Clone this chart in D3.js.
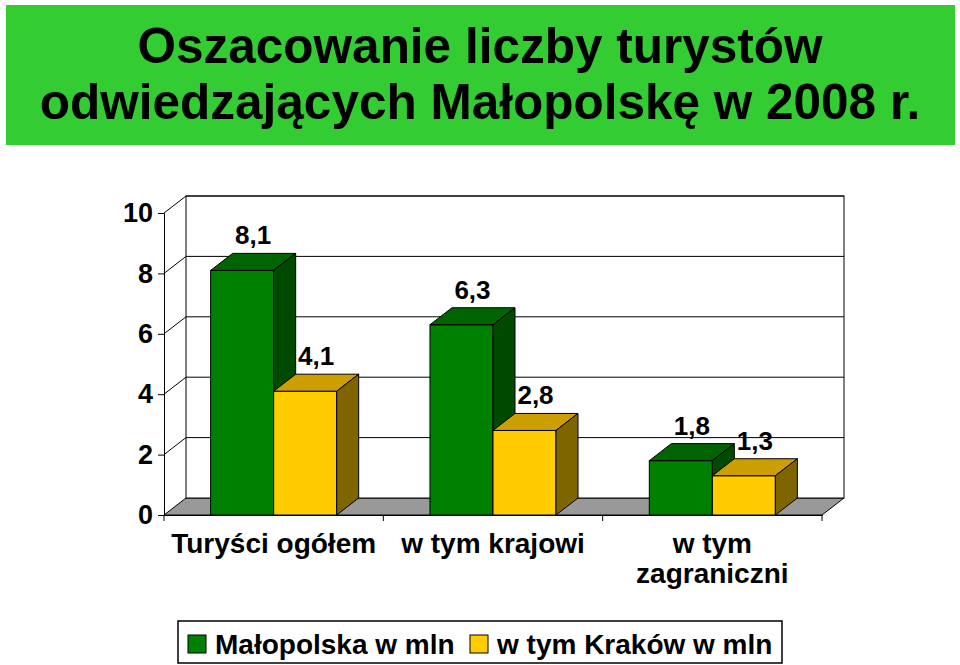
<!DOCTYPE html>
<html>
<head>
<meta charset="utf-8">
<script src="https://cdn.jsdelivr.net/npm/d3@7"></script>
<style>
  body { margin: 0; background: #fff; }
  svg { display: block; font-family: "Liberation Sans", Arial, sans-serif; }
</style>
</head>
<body>
<div id="chart"></div>
<script>
const titleLines = ['Oszacowanie liczby turystów', 'odwiedzających Małopolskę w 2008 r.'];
const categories = ['Turyści ogółem', 'w tym krajowi', 'w tym\nzagraniczni'];
const seriesNames = ['Małopolska w mln', 'w tym Kraków w mln'];
const malopolska = [8.1, 6.3, 1.8];
const krakow = [4.1, 2.8, 1.3];
const yTicks = [0, 2, 4, 6, 8, 10];

const W = 960, H = 665;
const plotLeft = 164, plotRight = 822, plotBase = 515, plotTop = 213;
const dx = 22, dy = -17;

const svg = d3.select('#chart').append('svg')
  .attr('width', W).attr('height', H);

// title banner
svg.append('rect')
  .attr('x', 6).attr('y', 5).attr('width', 949).attr('height', 140)
  .attr('fill', '#33cc33');

svg.append('g').selectAll('text')
  .data(titleLines)
  .enter().append('text')
  .attr('x', 480)
  .attr('y', (d, i) => 63 + i * 56)
  .attr('text-anchor', 'middle')
  .attr('font-size', 49.5)
  .attr('font-weight', 'bold')
  .text(d => d);

const y = d3.scaleLinear().domain([0, 10]).range([plotBase, plotTop]);
const x = d3.scaleBand().domain(categories).range([plotLeft, plotRight]);
const xs = d3.scaleBand().domain(seriesNames).range([0, x.bandwidth()]).paddingOuter(0.74);

const fmt = v => String(v).replace('.', ',');

const colors = [
  { front: '#008000', top: '#006400', side: '#004a00' },
  { front: '#ffcc00', top: '#cc9e00', side: '#7f6500' }
];

// walls
const g = svg.append('g');

// floor
g.append('path')
  .attr('d', `M${plotLeft},${plotBase}L${plotLeft + dx},${plotBase + dy}L${plotRight + dx},${plotBase + dy}L${plotRight},${plotBase}Z`)
  .attr('fill', '#999999').attr('stroke', '#000').attr('stroke-width', 1);

// back wall
g.append('rect')
  .attr('x', plotLeft + dx).attr('y', plotTop + dy)
  .attr('width', plotRight - plotLeft).attr('height', plotBase - plotTop)
  .attr('fill', '#fff').attr('stroke', '#000').attr('stroke-width', 1);

// grid on back wall and side wall
g.selectAll('.grid')
  .data(yTicks.filter(t => t > 0))
  .enter().append('path')
  .attr('class', 'grid')
  .attr('d', t => `M${plotLeft},${y(t)}L${plotLeft + dx},${y(t) + dy}L${plotRight + dx},${y(t) + dy}`)
  .attr('fill', 'none').attr('stroke', '#000').attr('stroke-width', 1);

// y axis
const yAxis = d3.axisLeft(y).tickValues(yTicks).tickSize(6).tickPadding(5)
  .tickFormat(d3.format('d'));
const ya = svg.append('g').attr('transform', `translate(${plotLeft},0)`).call(yAxis);
ya.select('.domain').attr('stroke', '#000');
ya.selectAll('text').attr('font-size', 27).attr('font-weight', 'bold')
  .attr('fill', '#000').attr('font-family', '"Liberation Sans", Arial, sans-serif');

// x axis
const xAxis = d3.axisBottom(x).tickSizeOuter(0).tickSize(0).tickFormat('');
const xa = svg.append('g').attr('transform', `translate(0,${plotBase})`).call(xAxis);
xa.select('.domain').attr('stroke', '#000');
const bounds = [plotLeft].concat(categories.map(c => x(c) + x.bandwidth()));
xa.selectAll('.sep').data(bounds).enter().append('line')
  .attr('x1', d => d).attr('x2', d => d).attr('y1', 0).attr('y2', 6)
  .attr('stroke', '#000');

// bars
const series = [malopolska, krakow];
categories.forEach((c, ci) => {
  series.forEach((vals, si) => {
    const v = vals[ci];
    const x0 = x(c) + xs(seriesNames[si]);
    const x1 = x0 + xs.bandwidth();
    const yt = y(v), yb = y(0);
    const col = colors[si];
    const bar = svg.append('g');
    bar.append('rect')
      .attr('x', x0).attr('y', yt).attr('width', x1 - x0).attr('height', yb - yt)
      .attr('fill', col.front).attr('stroke', '#000');
    bar.append('path')
      .attr('d', `M${x0},${yt}L${x0 + dx},${yt + dy}L${x1 + dx},${yt + dy}L${x1},${yt}Z`)
      .attr('fill', col.top).attr('stroke', '#000');
    bar.append('path')
      .attr('d', `M${x1},${yt}L${x1 + dx},${yt + dy}L${x1 + dx},${yb + dy}L${x1},${yb}Z`)
      .attr('fill', col.side).attr('stroke', '#000');
  });
});

// value labels (drawn after bars)
categories.forEach((c, ci) => {
  series.forEach((vals, si) => {
    const v = vals[ci];
    const cx = x(c) + xs(seriesNames[si]) + xs.bandwidth() / 2 + dx / 2;
    svg.append('text')
      .attr('x', cx).attr('y', y(v) + dy - 9)
      .attr('text-anchor', 'middle')
      .attr('font-size', 26).attr('font-weight', 'bold')
      .text(fmt(v));
  });
});

// category labels
categories.forEach(c => {
  const t = svg.append('text')
    .attr('x', x(c) + x.bandwidth() / 2)
    .attr('y', 553)
    .attr('text-anchor', 'middle')
    .attr('font-size', 28).attr('font-weight', 'bold');
  c.split('\n').forEach((line, i) => {
    t.append('tspan').attr('x', x(c) + x.bandwidth() / 2).attr('dy', i === 0 ? 0 : 30).text(line);
  });
});

// legend
const lg = svg.append('g');
lg.append('rect')
  .attr('x', 178).attr('y', 621).attr('width', 604).attr('height', 42)
  .attr('fill', '#fff').attr('stroke', '#000').attr('stroke-width', 1.5);
const legendX = [188, 470];
seriesNames.forEach((name, i) => {
  lg.append('rect')
    .attr('x', legendX[i]).attr('y', 635).attr('width', 18).attr('height', 18)
    .attr('fill', colors[i].front).attr('stroke', '#000');
  lg.append('text')
    .attr('x', legendX[i] + 27).attr('y', 654)
    .attr('font-size', 28).attr('font-weight', 'bold')
    .text(name);
});
</script>
</body>
</html>
